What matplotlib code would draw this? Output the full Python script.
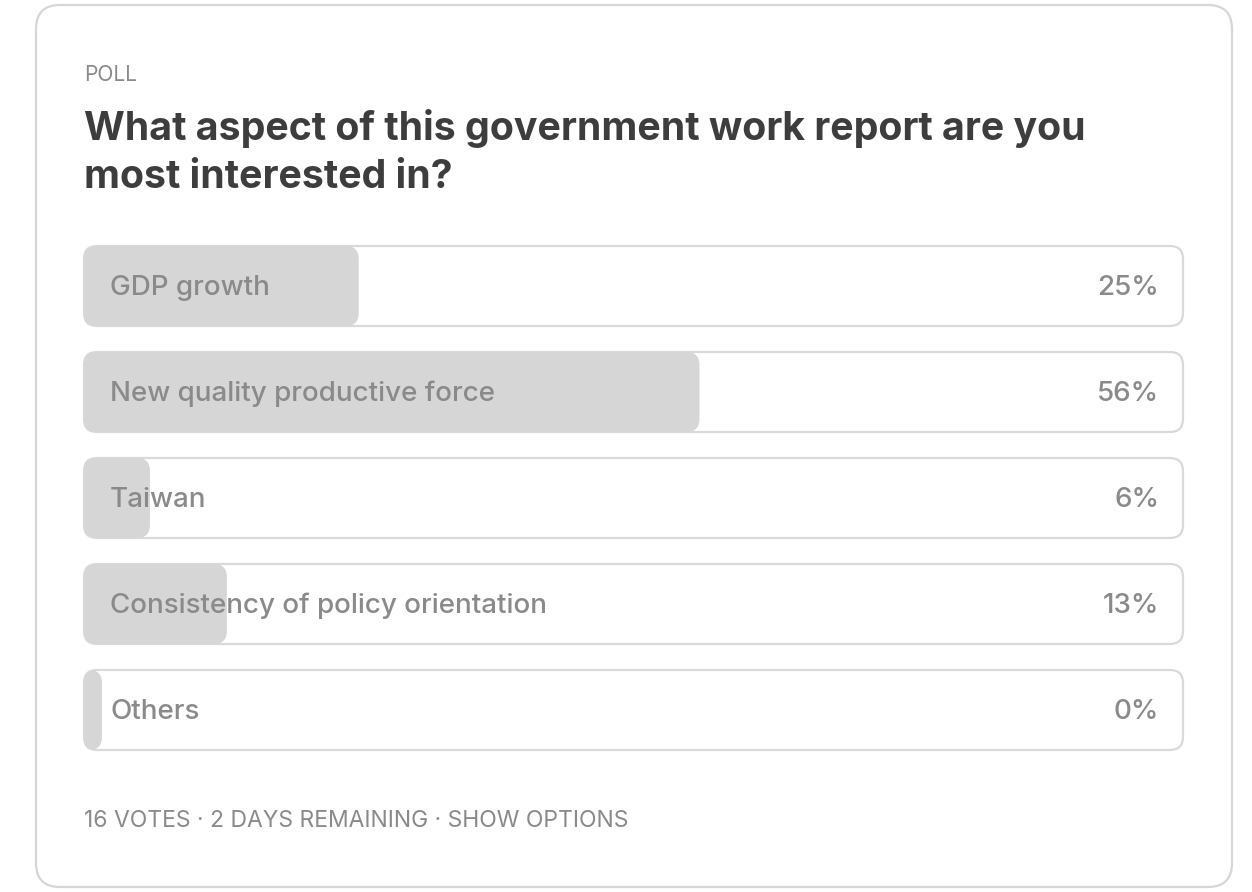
import matplotlib.pyplot as plt
from matplotlib.patches import FancyBboxPatch

options = ['GDP growth', 'New quality productive force', 'Taiwan',
           'Consistency of policy orientation', 'Others']
percents = [25, 56, 6, 13, 0]
votes_total = 16
days_left = 2

plt.rcParams['font.family'] = ['Inter', 'DejaVu Sans']

fig = plt.figure(figsize=(12.52, 8.92), dpi=100)
ax = fig.add_axes([0, 0, 1, 1])
ax.set_xlim(0, 1252)
ax.set_ylim(892, 0)
ax.axis('off')

# card
card = FancyBboxPatch((36, 5), 1196, 882, boxstyle='round,pad=0,rounding_size=24',
                      fc='white', ec='#d6d6d6', lw=1.6)
ax.add_patch(card)

text_gray = '#8a8a8a'
ax.text(84, 75, 'POLL', fontsize=15, color=text_gray, va='center', ha='left')
ax.text(84, 129, 'What aspect of this government work report are you',
        fontsize=28.3, fontweight='bold', color='#3d3d3d', va='center', ha='left')
ax.text(84, 178, 'most interested in?',
        fontsize=28.3, fontweight='bold', color='#3d3d3d', va='center', ha='left')

x0, track_w, bar_h = 84, 1099, 80
top0, step = 246, 106
for i, (name, p) in enumerate(zip(options, percents)):
    y = top0 + i * step
    track = FancyBboxPatch((x0, y), track_w, bar_h, boxstyle='round,pad=0,rounding_size=13',
                           fc='white', ec='#d9d9d9', lw=1.6)
    ax.add_patch(track)
    w = max(track_w * p / 100, 18)
    fill = FancyBboxPatch((x0, y), w, bar_h, boxstyle='round,pad=0,rounding_size=13',
                          fc='#d6d6d6', ec='none', lw=0)
    ax.add_patch(fill)
    ax.text(110, y + bar_h / 2 + 2, name, fontsize=20, fontweight='medium', color=text_gray,
            va='center', ha='left')
    ax.text(1159, y + bar_h / 2 + 2, f'{p}%', fontsize=20, fontweight='medium', color=text_gray,
            va='center', ha='right')

footer = f'{votes_total} VOTES \u00b7 {days_left} DAYS REMAINING \u00b7 SHOW OPTIONS'
ax.text(84, 821, footer, fontsize=16.5, color=text_gray, va='center', ha='left')

fig.savefig('out.png', dpi=100)
